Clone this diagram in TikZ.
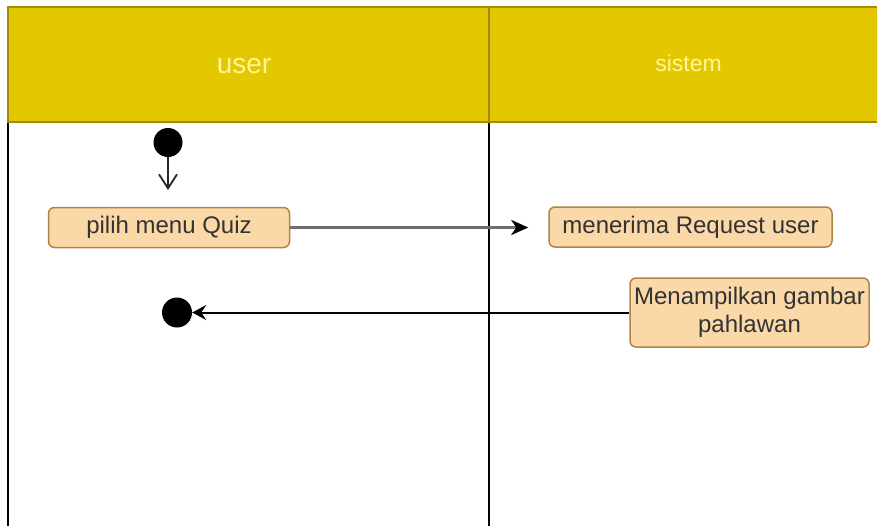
\documentclass[tikz,border=0pt]{standalone}
\usepackage{fontspec}
\setmainfont{Liberation Sans}
\usetikzlibrary{arrows.meta}
\definecolor{laneyellow}{HTML}{E3C800}
\definecolor{laneedge}{HTML}{A08A10}
\definecolor{lanetext}{HTML}{FFF59A}
\definecolor{actfill}{HTML}{FAD8A8}
\definecolor{actedge}{HTML}{B08448}
\definecolor{flowgray}{HTML}{6E6E6E}
\tikzset{
  lanehead/.style={fill=laneyellow, draw=laneedge, line width=1.5pt},
  lanetitle/.style={text=lanetext, anchor=base, inner sep=0pt},
  action/.style={draw=actedge, fill=actfill, line width=1.5pt, rounded corners=6pt,
    inner sep=0pt, font=\fontsize{24}{28}\selectfont, text=black!80, align=center},
  startnode/.style={circle, fill=black, minimum size=29pt, inner sep=0pt},
  endnode/.style={circle, fill=black, minimum size=30pt, inner sep=0pt},
}
\begin{document}
\begin{tikzpicture}[x=1pt, y=-1pt]
\useasboundingbox (0,0) rectangle (877,525);
\fill[white] (0,0) rectangle (877,525);
% swimlane headers
\path[lanehead] (8,7) rectangle (489,122);
\path[lanehead] (489,7) rectangle (880,122);
\node[lanetitle, font=\fontsize{28}{30}\selectfont] (userlane) at (244,73) {user};
\node[lanetitle, font=\fontsize{23}{26}\selectfont] (syslane) at (688.5,71.5) {sistem};
% lane bodies
\draw[black, line width=2pt] (8,123) -- (8,530);
\draw[black, line width=2pt] (489,123) -- (489,530);
% activity nodes
\node[startnode] (start) at (168,142.5) {};
\node[action, minimum width=241pt, minimum height=40pt] (pilih) at (169,227.5) {pilih menu Quiz};
\node[action, minimum width=283pt, minimum height=40pt] (terima) at (690.5,227) {menerima Request user};
\node[action, minimum width=239pt, minimum height=69pt] (tampil) at (749.5,312.5) {Menampilkan gambar\\pahlawan};
\node[endnode] (finish) at (177,312.5) {};
% control flows
\coordinate (startend) at (168,190);
\draw[black!85, line width=1.8pt, -{Straight Barb[length=14pt, width=18pt, line width=1.8pt]}]
  (start) -- (startend);
\draw[flowgray, line width=3pt, shorten >=20pt,
  -{Stealth[black, length=17pt, width=15pt, inset=5pt]}] (pilih.east) -- (pilih.east -| terima.west);
\draw[black, line width=2pt, -{Stealth[length=14pt, width=15pt, inset=5pt]}]
  (tampil.west) -- (finish);
\end{tikzpicture}
\end{document}
